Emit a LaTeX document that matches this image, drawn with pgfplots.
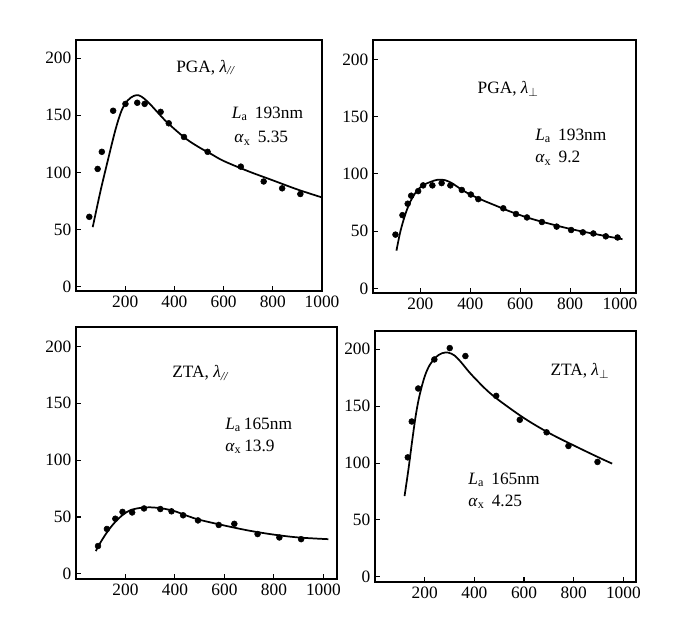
\documentclass[border=0pt]{standalone}
\usepackage{pgfplots}
\pgfplotsset{compat=1.18}
\usepackage{fontspec}
\setmainfont{Liberation Serif}
\pgfplotsset{
  panel/.style={
    scale only axis, anchor=south west,
    axis line style={line width=0.95pt},
    tick style={line width=0.8pt, black},
    major tick length=4pt,
    tick pos=left, tick align=inside,
    ytick={0,50,100,150,200},
    xtick={200,400,600,800,1000},
    ticklabel style={font=\fontsize{13}{13}\selectfont},
    /pgf/number format/assume math mode=true,
    /pgf/number format/set thousands separator={},
    clip=false,
  },
  dots/.style={only marks, mark=*, mark size=2.2pt, black},
  fit/.style={no marks, smooth, tension=0.55, line width=1.3pt, black},
}
\tikzset{ann/.style={font=\fontsize{13}{13.5}\selectfont, inner sep=0pt}}
\begin{document}
\begin{tikzpicture}
\useasboundingbox (0,0) rectangle (525pt,464.25pt);

% ---------- Panel 1: PGA, lambda // ----------
\begin{axis}[panel, at={(57pt,246pt)}, width=184.5pt, height=188.25pt,
  xmin=0, xmax=1000, ymin=-4, ymax=216]
\addplot[fit] coordinates {(68,52) (100,84) (130,111) (160,137) (185,154) (210,163) (235,167) (255,167.5) (275,165) (300,160) (330,153) (360,146) (400,138) (450,129) (500,122) (550,116) (600,110) (700,101) (800,93) (900,85) (1000,78)};
\addplot[dots] coordinates {(54,61) (88,103) (105,118) (151,154) (201,160) (249,161) (279,160) (344,153) (377,143) (439,131) (535,118) (670,105) (763,92) (838,86) (912,81)};
\node[ann] at (rel axis cs:0.528,0.891) {PGA, \textit{λ}\textsubscript{\textit{//}}};
\node[ann, anchor=west] at (rel axis cs:0.633,0.705) {\textit{L}\textsubscript{a}\, 193nm};
\node[ann, anchor=west] at (rel axis cs:0.643,0.608) {\textit{α}\textsubscript{x}\, 5.35};
\end{axis}

% ---------- Panel 2: PGA, lambda perp ----------
\begin{axis}[panel, at={(279.75pt,244.5pt)}, width=197.25pt, height=189.75pt,
  xmin=10, xmax=1064, ymin=-4, ymax=217]
\addplot[fit] coordinates {(104,33) (120,50) (140,65) (160,76) (185,85) (210,90) (240,93) (270,95) (300,94.5) (330,91.5) (360,87) (400,82) (450,77) (500,72.5) (550,68) (600,64) (650,60.5) (700,57.5) (800,52) (900,47.5) (1010,43)};
\addplot[dots] coordinates {(100,47) (128,64) (149,74) (163,81) (191,85) (211,90) (248,90) (285,92) (320,90) (366,86) (402,82) (432,78) (532,70) (583,65) (627,62) (687,58) (746,54) (804,51) (851,49) (893,48) (943,45.5) (990,44.5)};
\node[ann] at (rel axis cs:0.514,0.806) {PGA, \textit{λ}\textsubscript{$\perp$}};
\node[ann, anchor=west] at (rel axis cs:0.616,0.621) {\textit{L}\textsubscript{a}\, 193nm};
\node[ann, anchor=west] at (rel axis cs:0.616,0.532) {\textit{α}\textsubscript{x}\, 9.2};
\end{axis}

% ---------- Panel 3: ZTA, lambda // ----------
\begin{axis}[panel, at={(57pt,30pt)}, width=195.75pt, height=189pt,
  xmin=0, xmax=1055, ymin=-4.5, ymax=217]
\addplot[fit] coordinates {(80,20) (100,28) (130,38) (160,46) (190,52) (220,56) (260,58) (300,58.5) (350,57.5) (400,55) (450,51) (500,47.5) (600,42.5) (700,38) (800,34.5) (900,32) (1020,30.5)};
\addplot[dots] coordinates {(89,24.5) (125,39.5) (159,48.5) (188,54.5) (227,54) (275,57.5) (341,57) (386,55) (433,51.5) (493,47) (577,43) (640,44) (734,35) (822,32) (910,30.5)};
\node[ann] at (rel axis cs:0.478,0.818) {ZTA, \textit{λ}\textsubscript{\textit{//}}};
\node[ann, anchor=west] at (rel axis cs:0.571,0.611) {\textit{L}\textsubscript{a}\,165nm};
\node[ann, anchor=west] at (rel axis cs:0.571,0.525) {\textit{α}\textsubscript{x}\,13.9};
\end{axis}

% ---------- Panel 4: ZTA, lambda perp ----------
\begin{axis}[panel, at={(281.25pt,27.75pt)}, width=195.75pt, height=188.25pt,
  xmin=0, xmax=1051, ymin=-4.5, ymax=216]
\addplot[fit] coordinates {(119,71) (135,95) (150,120) (165,143) (180,160) (200,176) (220,186) (245,193) (270,196.5) (295,197) (320,194.5) (345,189) (375,181) (400,175) (450,164) (500,155) (600,139.5) (700,126.5) (800,115.5) (900,105) (955,99.5)};
\addplot[dots] coordinates {(132,105) (148,136.5) (174,165.5) (239,191) (301,201) (364,194) (488,159) (583,138) (691,127) (779,115) (896,101)};
\node[ann] at (rel axis cs:0.785,0.841) {ZTA, \textit{λ}\textsubscript{$\perp$}};
\node[ann, anchor=west] at (rel axis cs:0.357,0.406) {\textit{L}\textsubscript{a}\, 165nm};
\node[ann, anchor=west] at (rel axis cs:0.357,0.32) {\textit{α}\textsubscript{x}\, 4.25};
\end{axis}
\end{tikzpicture}
\end{document}
